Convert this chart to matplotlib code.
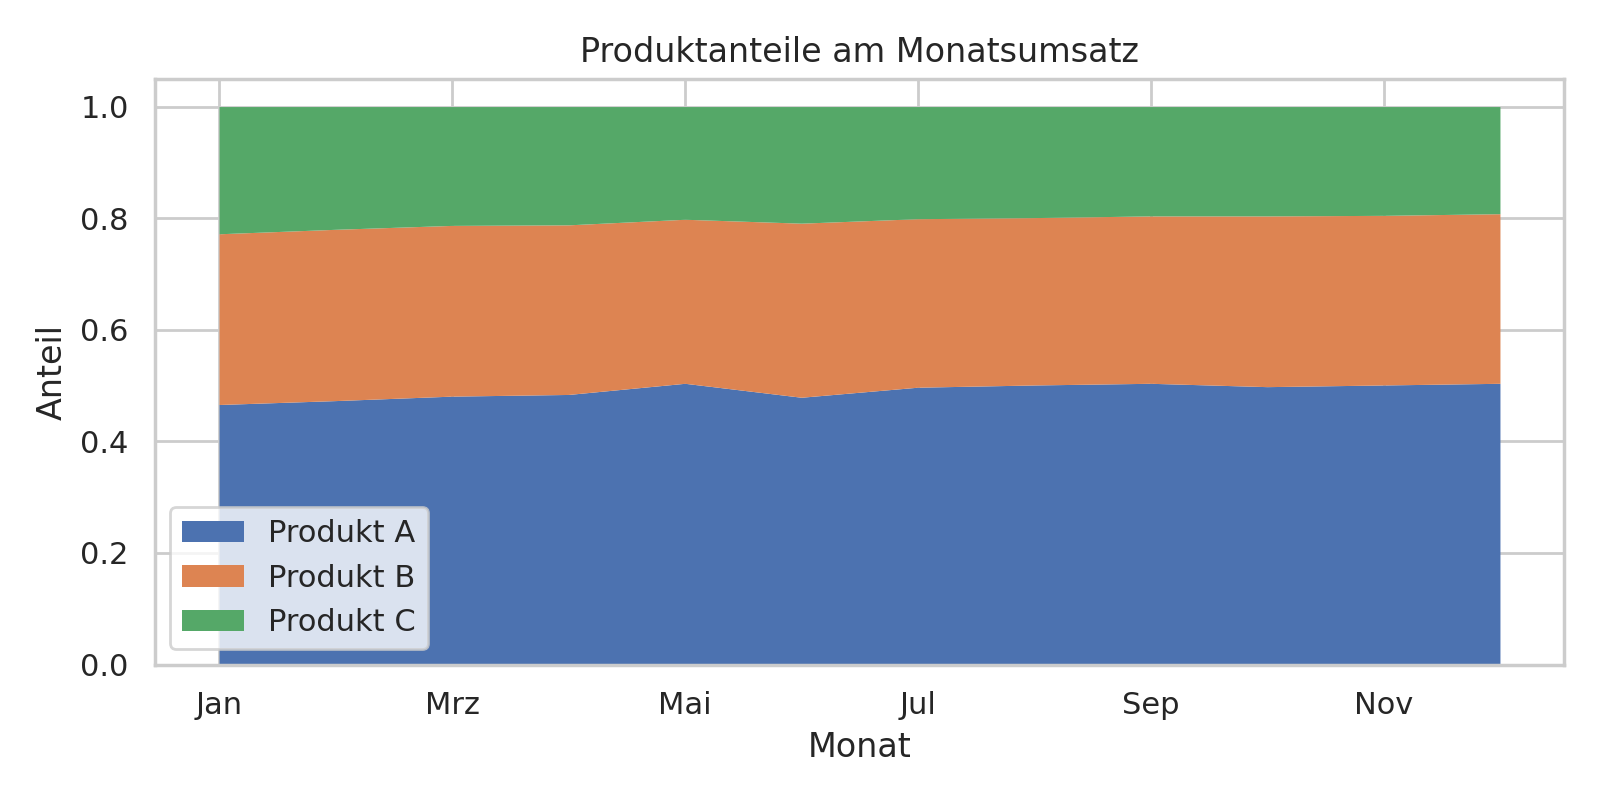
import matplotlib
matplotlib.use("Agg")
import matplotlib.pyplot as plt
import numpy as np
import seaborn as sns

# monthly shares (cumulative boundaries converted to shares)
months = ["Jan", "Feb", "Mrz", "Apr", "Mai", "Jun",
          "Jul", "Aug", "Sep", "Okt", "Nov", "Dez"]
top_a = [0.466, 0.473, 0.481, 0.484, 0.504, 0.479,
         0.497, 0.501, 0.504, 0.498, 0.501, 0.504]
top_ab = [0.772, 0.780, 0.787, 0.788, 0.798, 0.791,
          0.799, 0.801, 0.804, 0.804, 0.805, 0.808]
share_a = np.array(top_a)
share_b = np.array(top_ab) - share_a
share_c = 1.0 - np.array(top_ab)
labels = ["Produkt A", "Produkt B", "Produkt C"]

sns.set_theme(style="whitegrid")

fig, ax = plt.subplots(figsize=(8, 4), dpi=200)
x = np.arange(len(months))
ax.stackplot(x, share_a, share_b, share_c, labels=labels, linewidth=0)
ax.set_xticks(x[::2])
ax.set_xticklabels(months[::2])
ax.set_title("Produktanteile am Monatsumsatz")
ax.set_xlabel("Monat")
ax.set_ylabel("Anteil")
ax.legend(loc="lower left")
fig.tight_layout()
fig.savefig("out.png", dpi=200)
